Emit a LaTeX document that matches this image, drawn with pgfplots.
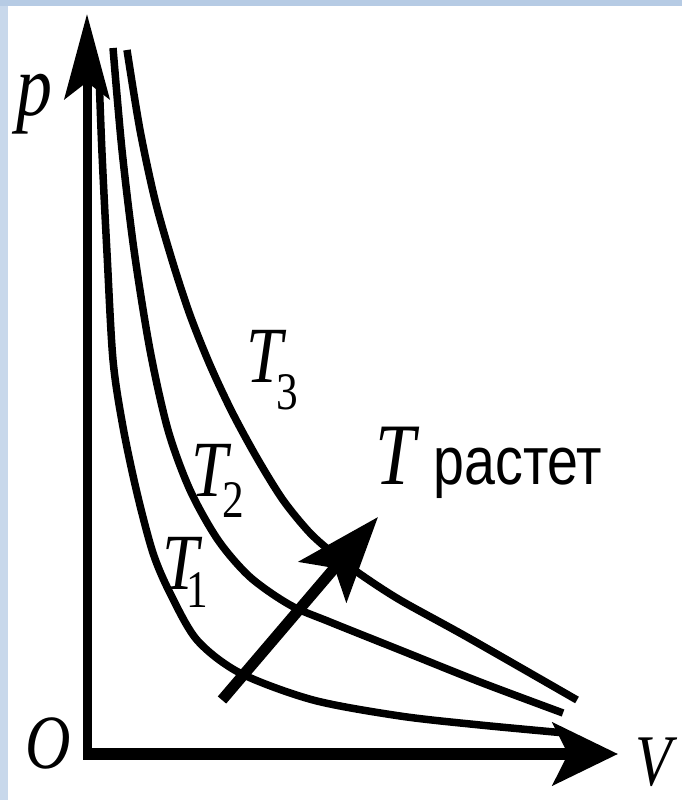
\documentclass[border=0pt]{standalone}
\usepackage{pgfplots}
\pgfplotsset{compat=1.18}
\usetikzlibrary{arrows.meta}
\usepackage{fontspec}
\setmainfont{Liberation Serif}
\newfontfamily\serifit{Liberation Serif}[FakeStretch=0.82]
\newfontfamily\sansn{Liberation Sans}[FakeStretch=0.82]
\definecolor{frametop}{RGB}{182,203,228}
\definecolor{frameleft}{RGB}{200,216,235}

% isotherm curves p(V) for three temperatures
\pgfplotstableread{
V p
12 679
15 601
20 501
26 394
36 327
50 261
66 201
83 161
110 114
153 81
226 54
313 38
393 29
478 21
}\isoA
\pgfplotstableread{
V p
26 706
35 604
47 504
63 404
81 324
103 264
131 214
163 177
203 149
243 132
313 104
393 72
476 41
}\isoB
\pgfplotstableread{
V p
40 704
53 624
68 554
85 494
103 439
123 389
145 342
170 296
196 254
223 221
248 199
273 180
313 154
380 117
490 54
}\isoC

\begin{document}
\begin{tikzpicture}
\begin{axis}[
  scale only axis, width=682bp, height=800bp,
  xmin=-87, xmax=595, ymin=-46, ymax=754,
  axis lines=none, clip=false,
]
% page background and frame
\fill[white] (rel axis cs:0,0) rectangle (rel axis cs:1,1);
\fill[frameleft] (axis cs:-87,-46) rectangle (axis cs:-79,754);
\fill[frametop] (axis cs:-87,748) rectangle (axis cs:595,754);

% isotherms
\addplot[black, line width=7.5bp, smooth] table[x=V,y=p] {\isoA};
\addplot[black, line width=7.5bp, smooth] table[x=V,y=p] {\isoB};
\addplot[black, line width=7.5bp, smooth] table[x=V,y=p] {\isoC};

% coordinate axes
\draw[black, line width=9bp, -{Stealth[length=85bp, width=45bp, inset=17bp]}]
  (axis cs:0,-6) -- (axis cs:0,740);
\draw[black, line width=12bp, -{Stealth[length=65bp, width=62bp, inset=15bp]}]
  (axis cs:-4,0) -- (axis cs:531,0);

% direction of increasing temperature
\draw[black, line width=11bp, -{Stealth[length=85bp, width=62bp, inset=18bp]}]
  (axis cs:135,54) -- (axis cs:291,237);

% labels
\node[inner sep=0pt] at (axis cs:-53,650) {\fontsize{88}{100}\serifit\itshape p};
\node[inner sep=0pt] at (axis cs:-39,11) {\fontsize{77}{90}\serifit\itshape O};
\node[inner sep=0pt] at (axis cs:567,-8) {\fontsize{73}{90}\serifit\itshape V};

\node[inner sep=0pt, anchor=base west] at (axis cs:74.8,164)
  {\fontsize{80}{90}\serifit\itshape T\kern-11.7bp\raisebox{-18bp}{\fontsize{53}{60}\serifit\upshape 1}};
\node[inner sep=0pt, anchor=base west] at (axis cs:104.3,257)
  {\fontsize{80}{90}\serifit\itshape T\kern-5.7bp\raisebox{-21bp}{\fontsize{53}{60}\serifit\upshape 2}};
\node[inner sep=0pt, anchor=base west] at (axis cs:159.3,371)
  {\fontsize{80}{90}\serifit\itshape T\kern-6.2bp\raisebox{-27bp}{\fontsize{53}{60}\serifit\upshape 3}};

\node[inner sep=0pt, anchor=base west] at (axis cs:288.3,269)
  {\fontsize{88}{100}\serifit\itshape T\hspace{18bp}\fontsize{68}{80}\sansn\upshape растет};
\end{axis}
\end{tikzpicture}
\end{document}
